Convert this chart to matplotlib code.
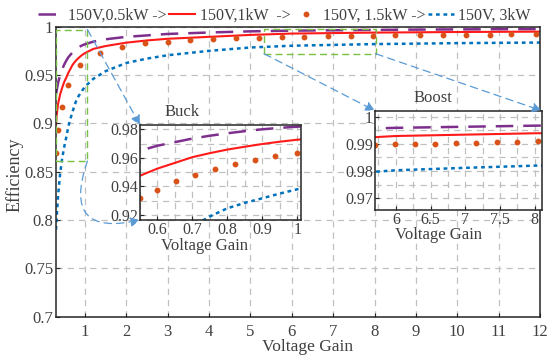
import numpy as np
import matplotlib
matplotlib.use("Agg")
import matplotlib.pyplot as plt
from matplotlib.patches import ConnectionPatch, Rectangle
from matplotlib.ticker import FuncFormatter, MultipleLocator

plt.rcParams['font.family'] = ['Liberation Serif', 'DejaVu Serif']
plt.rcParams['font.size'] = 11.5

# curve samples (voltage gain -> efficiency)
gain = [0.3, 0.32, 0.35, 0.4, 0.45, 0.5, 0.55, 0.6, 0.65, 0.7, 0.75, 0.8, 0.85,
        0.9, 0.95, 1.0, 1.2, 1.5, 2, 2.5, 3, 4, 5, 6, 7, 8, 9, 10, 11, 12]
eff_05kw = [0.93, 0.935, 0.942, 0.95, 0.956, 0.961, 0.965, 0.9685, 0.971, 0.9735,
            0.9755, 0.9772, 0.9787, 0.98, 0.981, 0.9818, 0.9845, 0.987, 0.9895,
            0.991, 0.9925, 0.994, 0.9952, 0.9959, 0.9963, 0.9967, 0.997, 0.9972,
            0.9974, 0.9975]
eff_1kw = [0.899, 0.91, 0.92, 0.93, 0.937, 0.943, 0.9475, 0.9525, 0.9565, 0.9605,
           0.9633, 0.9658, 0.9678, 0.9697, 0.9713, 0.9727, 0.977, 0.98, 0.9835,
           0.9858, 0.9875, 0.9895, 0.9915, 0.9929, 0.9934, 0.9939, 0.9942, 0.9945,
           0.9947, 0.9949]
eff_3kw = [0.79, 0.805, 0.825, 0.848, 0.864, 0.876, 0.886, 0.897, 0.905, 0.912,
           0.919, 0.9247, 0.9285, 0.9317, 0.935, 0.938, 0.946, 0.954, 0.9625,
           0.967, 0.9705, 0.975, 0.9785, 0.9803, 0.9812, 0.982, 0.9825, 0.983,
           0.9833, 0.9836]

# 1.5 kW markers as shown in each panel
dots_x = [0.304, 0.36, 0.448, 0.6, 0.887, 1.36, 1.9, 2.44, 3.0, 3.55, 4.1, 4.66,
          5.2, 5.77, 6.3, 6.87, 7.42, 7.97, 8.5, 9.1, 9.66, 10.2, 10.8, 11.3, 11.9]
dots_y = [0.869, 0.893, 0.917, 0.94, 0.96, 0.9726, 0.979, 0.9827, 0.9844, 0.986,
          0.9872, 0.988, 0.9886, 0.9892, 0.9897, 0.99, 0.9904, 0.9907, 0.991,
          0.9912, 0.9914, 0.9916, 0.9918, 0.992, 0.9921]
buck_dots_x = [0.549, 0.6, 0.652, 0.707, 0.766, 0.823, 0.88, 0.937, 0.998]
buck_dots_y = [0.932, 0.9377, 0.9435, 0.948, 0.9523, 0.9558, 0.9586, 0.961, 0.9633]
boost_dots_x = [5.70, 5.99, 6.28, 6.57, 6.87, 7.16, 7.46, 7.75, 8.05]
boost_dots_y = [0.9896, 0.9898, 0.99, 0.9901, 0.9903, 0.9904, 0.9906, 0.9907, 0.9909]

labels = ['150V,0.5kW ->', '150V,1kW  ->', '150V, 1.5kW ->', '150V, 3kW']
c_purple = '#7E2F8E'
c_red = '#FF1A1A'
c_orange = '#D95319'
c_blue = '#0072BD'
c_green = '#77C043'
c_arrow = '#5B9BD5'
c_grid = '#C0C0C0'
c_frame = '#262626'
c_text = '#404040'

fmt = FuncFormatter(lambda v, p: '%g' % round(v, 4))


def draw_series(ax, px, py):
    ax.plot(gain, eff_05kw, color=c_purple, lw=1.8, dashes=(7, 4), label=labels[0])
    ax.plot(gain, eff_1kw, color=c_red, lw=1.5, label=labels[1])
    ax.plot(px, py, ls='none', marker='o', ms=3.2, color=c_orange, label=labels[2])
    ax.plot(gain, eff_3kw, color=c_blue, lw=1.8, dashes=(1.5, 1.5), label=labels[3])


def style(ax, minor=False, size=12, pad=2):
    for s in ax.spines.values():
        s.set_color(c_frame)
        s.set_linewidth(1.1)
    ax.tick_params(direction='in', length=3, color=c_frame, labelcolor=c_text,
                   labelsize=size, pad=pad)
    ax.tick_params(which='minor', length=0)
    ax.grid(True, which='major', color=c_grid, ls=(0, (5, 4)), lw=0.9)
    if minor:
        ax.grid(True, which='minor', color=c_grid, ls=(0, (5, 4)), lw=0.9)
    ax.set_axisbelow(True)
    ax.xaxis.set_major_formatter(fmt)
    ax.yaxis.set_major_formatter(fmt)


fig = plt.figure(figsize=(5.47, 3.55), dpi=100)

# main axes
ax = fig.add_axes([56 / 547, 1 - 316.7 / 355, 484 / 547, 290 / 355])
draw_series(ax, dots_x, dots_y)
ax.set_xlim(0.3, 12)
ax.set_ylim(0.7, 1.0)
ax.set_xticks(range(1, 13))
ax.set_yticks(np.arange(0.7, 1.001, 0.05))
style(ax)
ax.tick_params(axis='x', pad=5)
ax.set_xlabel('Voltage Gain', fontsize=12.5, color=c_text)
ax.xaxis.set_label_coords(0.52, -0.077)
ax.set_ylabel('Efficiency', fontsize=13, color=c_text)
ax.yaxis.set_label_coords(-0.067, 0.49)

# zoom boxes
ax.add_patch(Rectangle((0.3, 0.861), 0.76, 0.136, fill=False, ec=c_green,
                       lw=1.0, ls=(0, (5, 3)), zorder=5))
ax.add_patch(Rectangle((5.33, 0.972), 2.7, 0.026, fill=False, ec=c_green,
                       lw=1.0, ls=(0, (5, 3)), zorder=5))

leg = fig.legend(*ax.get_legend_handles_labels(), loc='upper center',
                 bbox_to_anchor=(0.52, 1.02), ncol=4, frameon=False,
                 handlelength=1.6, handletextpad=0.3, columnspacing=0.15,
                 fontsize=11.5)
for t in leg.get_texts():
    t.set_color(c_text)

# buck inset
ax_buck = fig.add_axes([140 / 547, 1 - 220 / 355, 160.7 / 547, 95 / 355])
draw_series(ax_buck, buck_dots_x, buck_dots_y)
ax_buck.set_xlim(0.55, 1.01)
ax_buck.set_ylim(0.9165, 0.983)
ax_buck.set_xticks([0.6, 0.7, 0.8, 0.9, 1.0])
ax_buck.set_yticks([0.92, 0.94, 0.96, 0.98])
ax_buck.xaxis.set_minor_locator(MultipleLocator(0.05))
ax_buck.yaxis.set_minor_locator(MultipleLocator(0.01))
style(ax_buck, minor=True, size=11.5, pad=1.5)
ax_buck.set_xlabel('Voltage Gain', fontsize=12, color=c_text)
ax_buck.xaxis.set_label_coords(0.40, -0.185)
ax_buck.text(0.26, 1.05, 'Buck', transform=ax_buck.transAxes, ha='center',
             va='bottom', fontsize=12, color=c_text)

# boost inset
ax_boost = fig.add_axes([375 / 547, 1 - 210 / 355, 166.7 / 547, 99.3 / 355])
draw_series(ax_boost, boost_dots_x, boost_dots_y)
ax_boost.set_xlim(5.7, 8.1)
ax_boost.set_ylim(0.9657, 1.0022)
ax_boost.set_xticks([6, 6.5, 7, 7.5, 8])
ax_boost.set_yticks([0.97, 0.98, 0.99, 1.0])
ax_boost.xaxis.set_minor_locator(MultipleLocator(0.25))
ax_boost.yaxis.set_minor_locator(MultipleLocator(0.005))
style(ax_boost, minor=True, size=11.5, pad=1.5)
ax_boost.set_xlabel('Voltage Gain', fontsize=12, color=c_text)
ax_boost.xaxis.set_label_coords(0.38, -0.175)
ax_boost.text(0.35, 1.05, 'Boost', transform=ax_boost.transAxes, ha='center',
              va='bottom', fontsize=12, color=c_text)

# connector arrows
arrow_kw = dict(arrowstyle='-|>', mutation_scale=14, color=c_arrow, lw=0.9,
                ls=(0, (6, 4)), zorder=10)
links = [
    ((1.06, 0.997), ax_buck, (0, 1), 'arc3,rad=0'),
    ((1.06, 0.861), ax_buck, (0, 0), 'arc3,rad=0.9'),
    ((5.33, 0.972), ax_boost, (0, 1), 'arc3,rad=0'),
    ((8.03, 0.972), ax_boost, (1, 1), 'arc3,rad=0'),
]
for xy_a, target, xy_b, cs in links:
    con = ConnectionPatch(xyA=xy_a, coordsA=ax.transData, xyB=xy_b,
                          coordsB=target.transAxes, connectionstyle=cs, **arrow_kw)
    fig.add_artist(con)

fig.savefig('out.png', dpi=100)
